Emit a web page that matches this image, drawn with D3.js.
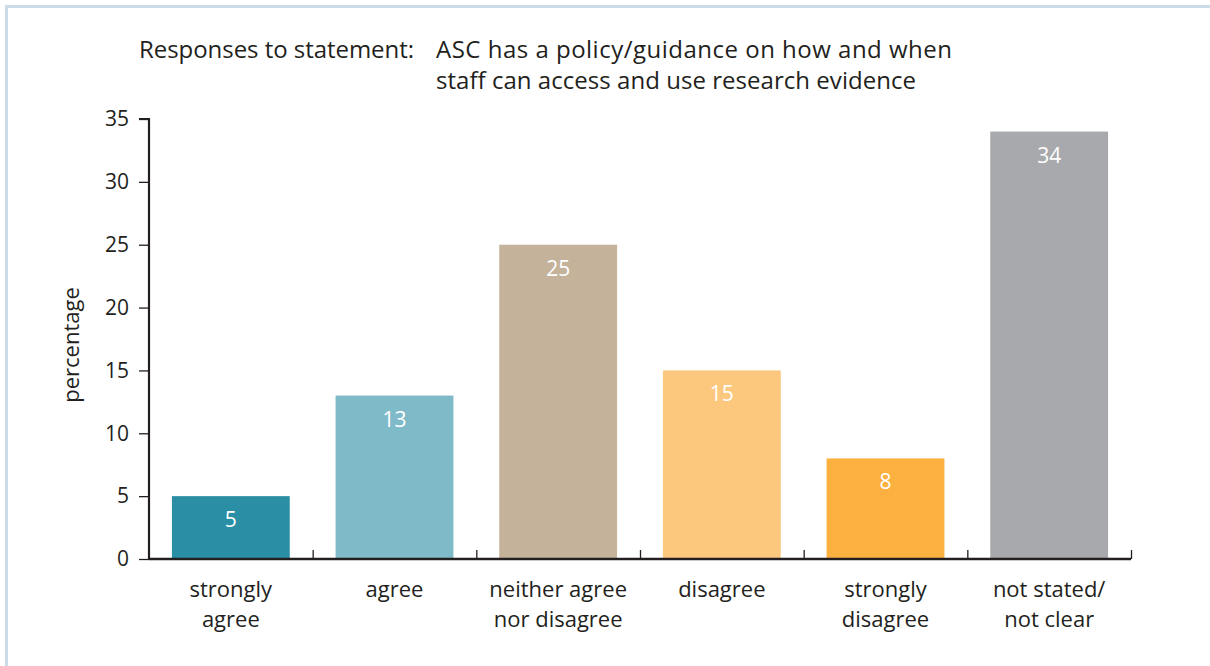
<!DOCTYPE html>
<html>
<head>
<meta charset="utf-8">
<script src="https://cdn.jsdelivr.net/npm/d3@7"></script>
<style>
  html, body { margin: 0; padding: 0; background: #ffffff; }
  svg { display: block; font-family: "Open Sans", "Noto Sans", sans-serif; }
</style>
</head>
<body>
<svg id="chart" width="1210" height="666"></svg>
<script>
// Survey responses, percentage of respondents
const categories = [
  ["strongly", "agree"],
  ["agree"],
  ["neither agree", "nor disagree"],
  ["disagree"],
  ["strongly", "disagree"],
  ["not stated/", "not clear"]
];
const values = [5, 13, 25, 15, 8, 34];
const barColors = ["#2a8ea5", "#7fbac9", "#c4b39a", "#fbc87e", "#fbb040", "#a7a9ac"];
const yTicks = [0, 5, 10, 15, 20, 25, 30, 35];
const titleLead = "Responses to statement:";
const titleLines = ["ASC has a policy/guidance on how and when", "staff can access and use research evidence"];
const yLabel = "percentage";

const ink = "#231f20";
const svg = d3.select("#chart");

// Framing panel border
svg.append("rect")
  .attr("x", 6.5).attr("y", 6.5)
  .attr("width", 1240).attr("height", 700)
  .attr("fill", "none")
  .attr("stroke", "#cadde6")
  .attr("stroke-width", 3);

const plotLeft = 149, plotRight = 1131, plotTop = 119, plotBottom = 559;
const keys = categories.map((c, i) => i);

const x = d3.scaleBand().domain(keys).range([plotLeft, plotRight]).paddingInner(0.28).paddingOuter(0.14);
const xEdge = d3.scaleLinear().domain([0, categories.length]).range([plotLeft, plotRight]);
const y = d3.scaleLinear().domain([0, 35]).range([plotBottom, plotTop]);

// Title
const title = svg.append("g").attr("fill", ink).style("font-size", "24px");
title.append("text").attr("x", 139).attr("y", 58).attr("textLength", 275).text(titleLead);
const titleWidths = [516, 480];
titleLines.forEach((t, i) => {
  title.append("text").attr("x", 436).attr("y", 58 + i * 31)
    .attr("textLength", titleWidths[i]).text(t);
});

// Bars
svg.append("g").selectAll("rect")
  .data(values)
  .join("rect")
  .attr("x", (d, i) => x(i))
  .attr("width", x.bandwidth())
  .attr("y", d => y(d))
  .attr("height", d => y(0) - y(d))
  .attr("fill", (d, i) => barColors[i]);

// Value labels inside bars
svg.append("g").selectAll("text")
  .data(values)
  .join("text")
  .attr("x", (d, i) => x(i) + x.bandwidth() / 2)
  .attr("y", d => y(d) + 31)
  .attr("text-anchor", "middle")
  .attr("fill", "#ffffff")
  .style("font-size", "21px")
  .text(d => d);

// Y axis
const yAxis = svg.append("g")
  .attr("transform", `translate(${plotLeft},0)`)
  .call(d3.axisLeft(y).tickValues(yTicks).tickSize(10).tickPadding(10));
yAxis.select(".domain").attr("stroke", ink).attr("stroke-width", 2.2)
  .attr("d", `M-10,${plotTop}H0V${plotBottom}`);
yAxis.selectAll(".tick line").attr("stroke", ink).attr("stroke-width", 1.3);
yAxis.selectAll(".tick text").attr("fill", ink).style("font-size", "21px")
  .style("font-family", "'Open Sans', 'Noto Sans', sans-serif");

// X axis with category boundary ticks pointing up
const xAxis = svg.append("g")
  .attr("transform", `translate(0,${plotBottom})`)
  .call(d3.axisBottom(xEdge).tickValues(d3.range(1, categories.length + 1)).tickSize(-9).tickFormat(""));
xAxis.select(".domain").attr("stroke", ink).attr("stroke-width", 2.6).attr("d", `M${plotLeft},0H${plotRight}`);
xAxis.selectAll(".tick line").attr("stroke", ink).attr("stroke-width", 1.3);

// Category labels
const catG = svg.append("g").attr("fill", ink).style("font-size", "22px");
categories.forEach((lines, i) => {
  const cx = x(i) + x.bandwidth() / 2;
  const t = catG.append("text").attr("x", cx).attr("y", 597).attr("text-anchor", "middle");
  lines.forEach((ln, j) => {
    t.append("tspan").attr("x", cx).attr("dy", j === 0 ? 0 : 30).text(ln);
  });
});

// Y axis title
svg.append("text")
  .attr("transform", `translate(79,${(plotTop + plotBottom) / 2 + 6}) rotate(-90)`)
  .attr("text-anchor", "middle")
  .attr("fill", ink)
  .style("font-size", "22px")
  .text(yLabel);
</script>
</body>
</html>
